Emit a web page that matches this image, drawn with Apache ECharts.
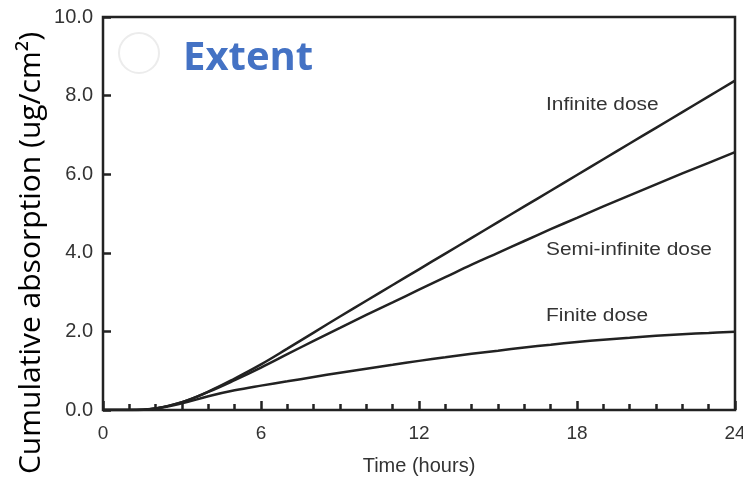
<!DOCTYPE html>
<html>
<head>
<meta charset="utf-8">
<script src="https://cdn.jsdelivr.net/npm/echarts@6/dist/echarts.min.js"></script>
<style>
  html, body { margin: 0; padding: 0; background: #fff; }
  #chart { width: 743px; height: 480px; }
</style>
</head>
<body>
<div id="chart"></div>
<script>
// Time points (hours)
const hours = [0, 1, 2, 3, 4, 5, 6, 7, 8, 9, 10, 11, 12, 13, 14, 15, 16, 17, 18, 19, 20, 21, 22, 23, 24];

// Cumulative absorption (ug/cm²) for each dosing regime
const infiniteDose = [0, 0, 0.04, 0.2, 0.47, 0.8, 1.16, 1.56, 1.97, 2.38, 2.78, 3.18, 3.58, 3.98, 4.38, 4.78, 5.18, 5.58, 5.98, 6.38, 6.78, 7.18, 7.58, 7.98, 8.38];
const semiInfiniteDose = [0, 0, 0.04, 0.2, 0.46, 0.76, 1.08, 1.42, 1.76, 2.09, 2.42, 2.74, 3.06, 3.38, 3.7, 4.0, 4.3, 4.6, 4.89, 5.18, 5.46, 5.74, 6.02, 6.29, 6.56];
const finiteDose = [0, 0, 0.04, 0.17, 0.35, 0.5, 0.62, 0.73, 0.84, 0.95, 1.05, 1.15, 1.25, 1.34, 1.43, 1.51, 1.59, 1.66, 1.73, 1.79, 1.84, 1.89, 1.93, 1.96, 1.99];

const seriesNames = ['Infinite dose', 'Semi-infinite dose', 'Finite dose'];
const seriesData = [infiniteDose, semiInfiniteDose, finiteDose];

// Axis tick settings
const xTicks = { min: 0, max: 24, interval: 6 };
const yTicks = { min: 0, max: 10, interval: 2 };

const chart = echarts.init(document.getElementById('chart'), null, { renderer: 'canvas' });

const ink = '#222';
const labelFont = '"Liberation Sans", Arial, sans-serif';
const calloutFont = '18px "Liberation Sans", Arial, sans-serif';

// In-plot series callouts: [name, x, y (middle of text)]
const callouts = [
  [seriesNames[0], 546, 104],
  [seriesNames[1], 546, 249],
  [seriesNames[2], 546, 315]
];

chart.setOption({
  animation: false,
  backgroundColor: '#fff',
  grid: {
    left: 103, right: 8, top: 17, bottom: 70,
    outerBoundsMode: 'none',
    containLabel: false,
    show: true, borderColor: ink, borderWidth: 2.5, backgroundColor: 'transparent'
  },
  xAxis: {
    type: 'value',
    min: xTicks.min, max: xTicks.max, interval: xTicks.interval,
    name: 'Time (hours)',
    nameLocation: 'middle',
    nameGap: 46,
    nameTextStyle: { fontFamily: labelFont, fontSize: 20, color: '#333' },
    axisLine: { show: false },
    axisTick: { show: true, inside: true, length: 9, lineStyle: { color: ink, width: 2.5 } },
    minorTick: { show: true, splitNumber: 6, length: 6, lineStyle: { color: ink, width: 2.5 } },
    splitLine: { show: false },
    axisLabel: {
      fontFamily: labelFont, fontSize: 19, color: '#333', margin: 14,
      formatter: v => String(v)
    }
  },
  yAxis: {
    type: 'value',
    min: yTicks.min, max: yTicks.max, interval: yTicks.interval,
    axisLine: { show: false },
    axisTick: { show: true, inside: true, length: 8, lineStyle: { color: ink, width: 2.5 } },
    splitLine: { show: false },
    axisLabel: {
      fontFamily: labelFont, fontSize: 20, color: '#333', margin: 10,
      formatter: v => v.toFixed(1)
    }
  },
  series: seriesData.map((data, i) => ({
    name: seriesNames[i],
    type: 'line',
    smooth: 0.4,
    showSymbol: false,
    symbol: 'none',
    lineStyle: { color: ink, width: 2.5 },
    data: hours.map((h, j) => [h, data[j]])
  })),
  graphic: [
    {
      type: 'text',
      x: 31, y: 253,
      rotation: Math.PI / 2,
      style: {
        text: 'Cumulative absorption (ug/cm²)',
        font: '30px "Open Sans", "Noto Sans", sans-serif',
        fill: '#000',
        align: 'center',
        verticalAlign: 'middle'
      }
    },
    {
      type: 'circle',
      shape: { cx: 139, cy: 53, r: 20 },
      style: { fill: 'none', stroke: '#ececec', lineWidth: 2 }
    },
    {
      type: 'text',
      x: 183, y: 59,
      style: {
        text: 'Extent',
        font: 'bold 40px "Open Sans", "Noto Sans", sans-serif',
        fill: '#4472C4',
        align: 'left',
        verticalAlign: 'middle'
      }
    }
  ].concat(callouts.map(([txt, x, y]) => ({
    type: 'text',
    x: x, y: y + 1,
    scaleX: 1.16,
    style: { text: txt, font: calloutFont, fill: '#333', align: 'left', verticalAlign: 'middle' }
  })))
});
</script>
</body>
</html>
